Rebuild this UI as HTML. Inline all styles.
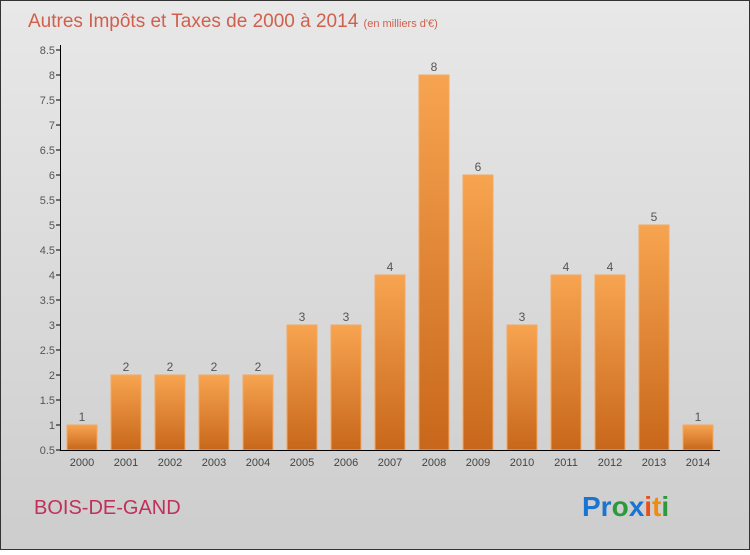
<!DOCTYPE html>
<html><head><meta charset="utf-8"><style>
body{margin:0}
#c{width:750px;height:550px;position:relative;font-family:"Liberation Sans",sans-serif}
</style></head><body>
<div id="c">
<svg width="750" height="550" id="svg">
<defs>
<linearGradient id="bg" x1="0" y1="0" x2="0" y2="1"><stop offset="0" stop-color="#e8e8e8"/><stop offset="1" stop-color="#cdcdcd"/></linearGradient>
<linearGradient id="bar" x1="0" y1="0" x2="0" y2="1"><stop offset="0" stop-color="#f7a450"/><stop offset="1" stop-color="#c8671b"/></linearGradient>
</defs>
<rect x="0.5" y="0.5" width="749" height="549" fill="url(#bg)" stroke="#333"/>
<text x="28" y="27" font-size="19" fill="#d0604d">Autres Impôts et Taxes de 2000 à 2014 <tspan font-size="11">(en milliers d'€)</tspan></text>
<text x="34" y="514" font-size="20" fill="#c0305a">BOIS-DE-GAND</text>
<text x="582" y="516" font-size="28" font-weight="bold"><tspan fill="#1a75d0">Pr</tspan><tspan fill="#2a9a3a">o</tspan><tspan fill="#1a75d0">x</tspan><tspan fill="#e8501a">i</tspan><tspan fill="#f08a10">t</tspan><tspan fill="#2a9a3a">i</tspan></text>
<g id="plot"></g>
</svg>
</div>
<script>
const years=["2000","2001","2002","2003","2004","2005","2006","2007","2008","2009","2010","2011","2012","2013","2014"];
const values=[1,2,2,2,2,3,3,4,8,6,3,4,4,5,1];
const yTicks=[0.5,1,1.5,2,2.5,3,3.5,4,4.5,5,5.5,6,6.5,7,7.5,8,8.5];
const NS="http://www.w3.org/2000/svg";
const g=document.getElementById('plot');
const y=v=>450-(v-0.5)*50;
const x=i=>67+i*44;
function mk(t,a){const e=document.createElementNS(NS,t);for(const k in a)e.setAttribute(k,a[k]);g.appendChild(e);return e;}
yTicks.forEach(t=>{
 const l=mk('line',{x1:56,x2:61,y1:y(t),y2:y(t),stroke:'#000'});
 
 
 const tx=mk('text',{x:55,y:y(t)+4,'text-anchor':'end','font-size':11,fill:'#555'});
 tx.textContent=String(t);
 
 
});
values.forEach((v,i)=>{
 const r=mk('rect',{x:x(i),y:y(v),width:30,height:450-y(v),fill:'url(#bar)',stroke:'#f5a860','stroke-width':1});
 
 
 const t=mk('text',{x:x(i)+15,y:y(v)-4,'text-anchor':'middle','font-size':12,fill:'#555'});
 t.textContent=v;
 
 
 const xl=mk('text',{x:x(i)+15,y:466,'text-anchor':'middle','font-size':11,fill:'#444'});
 xl.textContent=years[i];
 
 
});
const ya=mk('line',{x1:60.5,x2:60.5,y1:45,y2:450,stroke:'#000'});


const xa=mk('line',{x1:60,x2:720,y1:450.5,y2:450.5,stroke:'#000'});


</script>
</body></html>
